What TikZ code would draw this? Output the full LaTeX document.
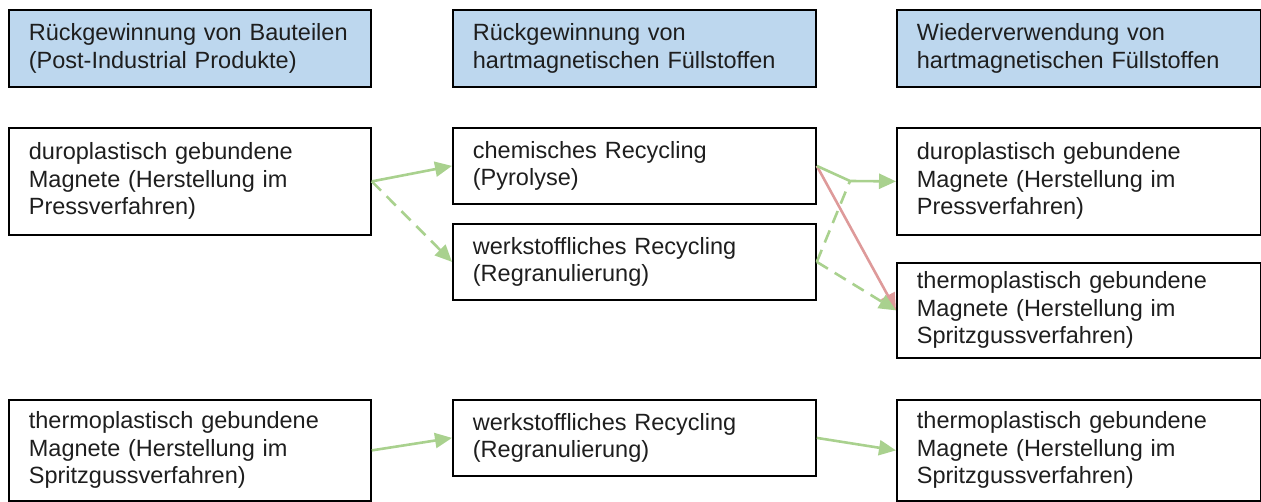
\documentclass[tikz,border=0pt]{standalone}
\usepackage{fontspec}
\setmainfont{Liberation Sans}
\usetikzlibrary{arrows.meta}
\definecolor{hdrfill}{HTML}{BDD7EE}
\definecolor{arrgreen}{HTML}{A9D18E}
\definecolor{arrred}{HTML}{DE9A9A}
\definecolor{txt}{HTML}{1E1E1E}
\begin{document}
\begin{tikzpicture}[x=1pt,y=-1pt,
  box/.style={draw=black, line width=1.8pt, rectangle, anchor=north west, inner xsep=20pt, inner ysep=0pt,
    align=left, text=txt, font=\fontsize{23.5}{27.5}\selectfont},
  hdr/.style={box, fill=hdrfill},
  gline/.style={draw=arrgreen, line width=2.6pt},
  garrow/.style={gline, -{Triangle[length=17pt,width=15pt]}},
  rarrow/.style={draw=arrred, line width=2.6pt, -{Triangle[length=17pt,width=15pt]}},
  dsh/.style={dash pattern=on 13pt off 8pt}
]
\useasboundingbox (0,0) rectangle (1261,502);
% headers
\node[hdr, minimum width=362pt, minimum height=77pt, text width=322pt] (h1) at (8,9) {Rückgewinnung von Bauteilen\\(Post-Industrial Produkte)};
\node[hdr, minimum width=363pt, minimum height=77pt, text width=323pt] (h2) at (452,9) {Rückgewinnung von\\hartmagnetischen Füllstoffen};
\node[hdr, minimum width=364pt, minimum height=77pt, text width=324pt] (h3) at (896,9) {Wiederverwendung von\\hartmagnetischen Füllstoffen};
% row 1
\node[box, minimum width=362pt, minimum height=107pt, text width=322pt] (a1) at (8,127) {duroplastisch gebundene\\Magnete (Herstellung im\\Pressverfahren)};
\node[box, minimum width=363pt, minimum height=76pt, text width=323pt] (b1) at (452,127) {chemisches Recycling\\(Pyrolyse)};
\node[box, minimum width=363pt, minimum height=76pt, text width=323pt] (b2) at (452,223) {werkstoffliches Recycling\\(Regranulierung)};
\node[box, minimum width=364pt, minimum height=107pt, text width=324pt] (c1) at (896,127) {duroplastisch gebundene\\Magnete (Herstellung im\\Pressverfahren)};
\node[box, minimum width=364pt, minimum height=95pt, text width=324pt] (c2) at (896,262) {thermoplastisch gebundene\\Magnete (Herstellung im\\Spritzgussverfahren)};
% row 3
\node[box, minimum width=362pt, minimum height=101pt, text width=322pt] (a3) at (8,399) {thermoplastisch gebundene\\Magnete (Herstellung im\\Spritzgussverfahren)};
\node[box, minimum width=363pt, minimum height=76pt, text width=323pt] (b3) at (452,399) {werkstoffliches Recycling\\(Regranulierung)};
\node[box, minimum width=364pt, minimum height=101pt, text width=324pt] (c3) at (896,399) {thermoplastisch gebundene\\Magnete (Herstellung im\\Spritzgussverfahren)};
% connectors
\coordinate (j) at (850,181);
\draw[garrow] (a1.east) -- (b1.west);
\draw[garrow, dsh] (a1.east) -- (b2.west);
\draw[rarrow] (b1.east) -- (c2.west);
\draw[garrow] (b1.east) -- (j) -- (c1.west);
\draw[gline, dsh] (b2.east) -- (j);
\draw[garrow, dsh] (b2.east) -- (c2.west);
\draw[garrow] (a3.east) -- (b3.west);
\draw[garrow] (b3.east) -- (c3.west);
\end{tikzpicture}
\end{document}
